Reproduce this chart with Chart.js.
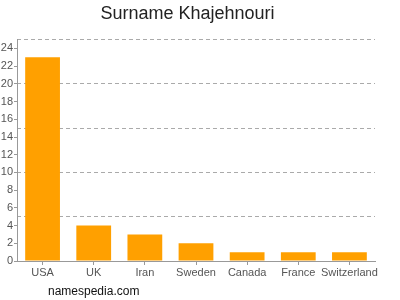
<!DOCTYPE html>
<html>
<head>
<meta charset="utf-8">
<script src="https://cdn.jsdelivr.net/npm/chart.js@4"></script>
<style>
    body { margin: 0; background: #fff; }
    #wrap { position: relative; width: 400px; height: 300px; }
    #site { position: absolute; left: 48px; top: 284px; font: 12px "Liberation Sans", Arial, sans-serif; color: #111; }
</style>
</head>
<body>
<div id="wrap">
    <canvas id="surnameChart" width="400" height="300"></canvas>
    <div id="site">namespedia.com</div>
</div>
<script>
var countries = ['USA', 'UK', 'Iran', 'Sweden', 'Canada', 'France', 'Switzerland'];
var counts = [23, 4, 3, 2, 1, 1, 1];
var labelTicks = [0, 2, 4, 6, 8, 10, 12, 14, 16, 18, 20, 22, 24];
var gridTicks = [0, 5, 10, 15, 20, 25];

document.addEventListener("DOMContentLoaded", function () {
    var ctx = document.getElementById('surnameChart').getContext('2d');
    var font = { family: '"Liberation Sans", Arial, sans-serif', size: 11 };

    var chart = new Chart(ctx, {
        type: 'bar',
        data: {
            labels: countries,
            datasets: [{
                data: counts,
                backgroundColor: '#ffa000',
                borderWidth: 0,
                categoryPercentage: 1,
                barPercentage: 0.68
            }]
        },
        options: {
            responsive: false,
            animation: false,
            layout: {
                autoPadding: false,
                padding: { left: 0, right: 25, top: 0, bottom: 23 }
            },
            scales: {
                x: {
                    grid: {
                        offset: false,
                        drawOnChartArea: false,
                        drawTicks: true,
                        tickLength: 4,
                        color: '#999'
                    },
                    border: { color: '#999' },
                    ticks: { color: '#555', font: font, padding: 1, maxRotation: 0, autoSkip: false },
                    afterFit: function (scale) { scale.height = 16; }
                },
                y: {
                    min: 0,
                    max: 25,
                    grid: {
                        drawOnChartArea: false,
                        drawTicks: true,
                        tickLength: 3,
                        color: '#999'
                    },
                    border: { color: '#999' },
                    ticks: { color: '#555', font: font, padding: 1 },
                    afterBuildTicks: function (scale) {
                        scale.ticks = labelTicks.map(function (v) { return { value: v }; });
                    },
                    afterFit: function (scale) { scale.width = 17; }
                },
                // second axis only for the dashed grid every 5
                y2: {
                    position: 'left',
                    min: 0,
                    max: 25,
                    grid: {
                        drawTicks: false,
                        color: '#aaa'
                    },
                    border: { display: false, dash: [4, 3] },
                    ticks: { display: false },
                    afterBuildTicks: function (scale) {
                        scale.ticks = gridTicks.map(function (v) { return { value: v }; });
                    },
                    afterFit: function (scale) { scale.width = 0; }
                }
            },
            plugins: {
                legend: { display: false },
                tooltip: { enabled: false },
                title: {
                    display: true,
                    text: 'Surname Khajehnouri',
                    color: '#222',
                    font: { family: '"Liberation Sans", Arial, sans-serif', size: 18, weight: 'normal' },
                    padding: { top: 3, bottom: 15 }
                }
            }
        }
    });
});
</script>
</body>
</html>
